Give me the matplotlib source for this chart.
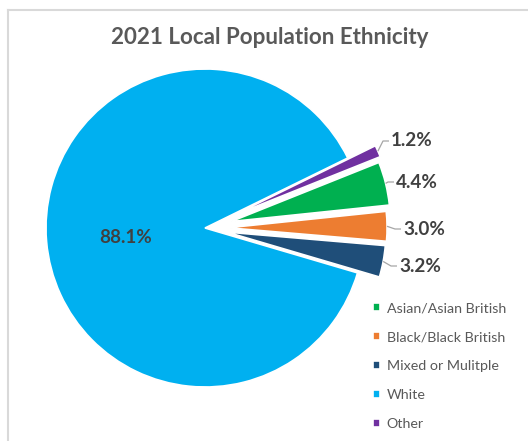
import matplotlib
matplotlib.use("Agg")
import matplotlib.pyplot as plt
from matplotlib.lines import Line2D
import numpy as np

plt.rcParams["font.family"] = ["Lato", "DejaVu Sans"]

# slices in legend order, drawn clockwise
LABELS = ["Asian/Asian British", "Black/Black British", "Mixed or Mulitple", "White", "Other"]
VALUES = [4.4, 3.0, 3.2, 88.1, 1.2]
COLORS = ["#00B050", "#ED7D31", "#1F4E79", "#00B0F0", "#7030A0"]
EXPLODE = [0.17, 0.145, 0.14, 0.0, 0.19]

W, H = 528, 441
CX, CY, R = 205, 228, 159  # pie centre / radius in px
TXT = "#404040"
GREY = "#595959"

fig = plt.figure(figsize=(W / 100, H / 100), dpi=100)


def fx(px):
    return px / W


def fy(py):
    return 1 - py / H


ax = fig.add_axes([fx(CX - 200), fy(CY + 200), 400 / W, 400 / H])
wedges, _ = ax.pie(VALUES, colors=COLORS, explode=EXPLODE, startangle=21.8,
                   counterclock=False, radius=1.0,
                   wedgeprops=dict(edgecolor="white", linewidth=1.2))
lim = 200 / R
ax.set_xlim(-lim, lim)
ax.set_ylim(-lim, lim)
ax.set_aspect("equal")
ax.axis("off")


def to_data(px, py):
    return (px - CX) / R, (CY - py) / R


# big slice label inside
x, y = to_data(126, 237)
ax.text(x, y, f"{VALUES[3]:.1f}%", ha="center", va="center",
        fontsize=13.6, fontweight="bold", color=TXT)

# outside labels with short leader lines (text left edge px, centre y px)
label_pos = {0: (397, 182), 1: (404, 229), 2: (400, 266), 4: (392, 141)}
for i, (lx, ly) in label_pos.items():
    w = wedges[i]
    mid = np.deg2rad((w.theta1 + w.theta2) / 2)
    r = 1 + EXPLODE[i]
    sx, sy = r * np.cos(mid), r * np.sin(mid)
    ex, ey = to_data(lx - 3, ly)
    kx, _ = to_data(lx - 9, ly)
    ax.plot([sx, kx, ex], [sy, ey, ey], color="#A6A6A6", lw=0.9,
            solid_capstyle="butt")
    ax.text(ex + 2 / R, ey, f"{VALUES[i]:.1f}%", ha="left", va="center",
            fontsize=13.6, fontweight="bold", color=TXT)

fig.text(fx(270), fy(38), "2021 Local Population Ethnicity", ha="center",
         va="center", fontsize=16.1, fontweight="bold", color=GREY)

leg = fig.legend(wedges, LABELS, loc="upper left",
                 bbox_to_anchor=(fx(366), fy(295)), frameon=False,
                 fontsize=10.3, handlelength=0.5, handleheight=0.5,
                 handletextpad=0.45, labelspacing=1.19, borderpad=0)
for t in leg.get_texts():
    t.set_color(GREY)

# light chart frame along the top and left edges
frame = dict(color="#D9D9D9", lw=1.5, transform=fig.transFigure)
fig.add_artist(Line2D([fx(7.5), fx(7.5)], [fy(9.5), 0], **frame))
fig.add_artist(Line2D([fx(7.5), 1], [fy(9.5), fy(9.5)], **frame))

fig.savefig("out.png", dpi=100, facecolor="white")
